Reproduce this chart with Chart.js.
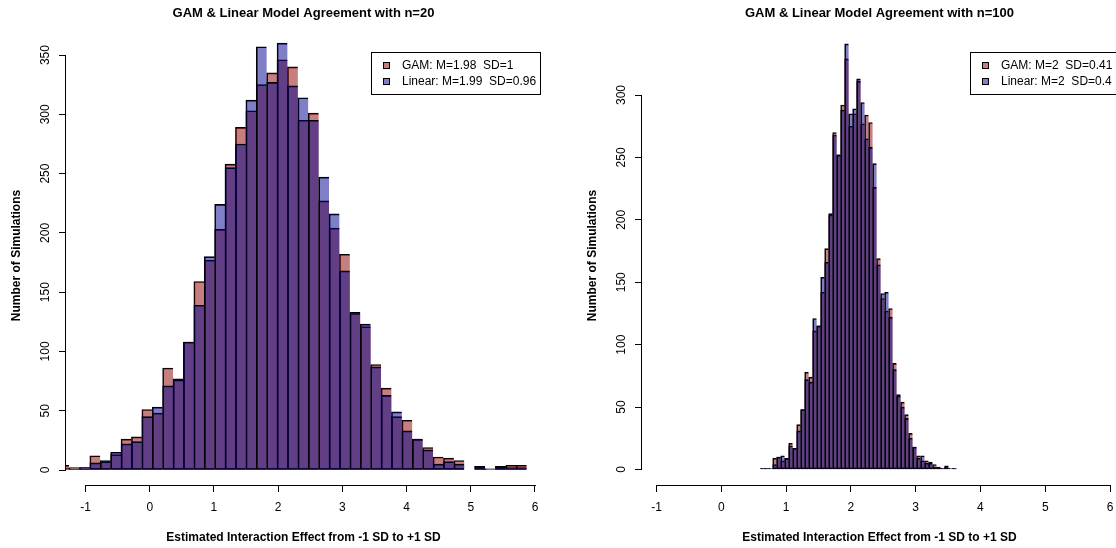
<!DOCTYPE html>
<html><head><meta charset="utf-8">
<script src="https://cdn.jsdelivr.net/npm/chart.js@4.4.0/dist/chart.umd.min.js"></script>
<style>
html,body{margin:0;padding:0;background:#fff;overflow:hidden;width:1116px;height:548px}
.p{position:absolute;top:0;width:576px;height:548px}
</style></head><body>
<div class="p" style="left:0"><canvas id="c1" width="576" height="548"></canvas></div>
<div class="p" style="left:576px"><canvas id="c2" width="576" height="548"></canvas></div>
<script>
// ---- data ----
const leftBins = [-1.338,-1.176,-1.014,-0.852,-0.690,-0.528,-0.366,-0.204,-0.042,0.120,0.282,0.444,0.606,0.768,0.930,1.092,1.254,1.416,1.578,1.740,1.902,2.064,2.226,2.388,2.550,2.712,2.874,3.036,3.198,3.360,3.522,3.684,3.846,4.008,4.170,4.332,4.494,4.656,4.818,4.980,5.142,5.304,5.466,5.628,5.790];
const leftGam = [4,2,2,12,8,13,26,28,51,48,86,77,108,159,177,203,258,289,303,325,335,346,340,295,301,227,204,182,133,121,89,69,45,42,26,19,11,10,8,0,3,1,3,4,4];
const leftLinear = [0,1,2,6,7,15,22,24,45,53,71,76,108,139,180,224,255,275,312,357,327,360,324,314,295,247,216,168,132,123,87,63,49,33,26,17,5,7,5,0,3,1,3,2,2];

const rightBins = [0.6390,0.7007,0.7624,0.8241,0.8858,0.9475,1.0092,1.0709,1.1326,1.1943,1.2560,1.3177,1.3794,1.4411,1.5028,1.5645,1.6262,1.6879,1.7496,1.8113,1.8730,1.9347,1.9964,2.0581,2.1198,2.1815,2.2432,2.3049,2.3666,2.4283,2.4900,2.5517,2.6134,2.6751,2.7368,2.7985,2.8602,2.9219,2.9836,3.0453,3.1070,3.1687,3.2304,3.2921,3.3538,3.4155,3.4772,3.5389,3.6006];
const rightGam = [1,1,0,9,10,7,9,21,17,36,48,78,74,111,115,142,177,204,270,252,292,329,275,285,311,277,284,278,226,169,137,127,129,85,60,54,44,29,18,11,7,7,6,4,2,1,2,1,1];
const rightLinear = [1,1,1,4,10,11,9,19,17,31,48,72,70,121,115,154,166,205,268,252,288,341,285,289,313,294,265,258,245,164,141,142,122,80,59,50,41,25,18,9,11,5,5,2,2,1,3,0,1];

const xTickValues = [-1,0,1,2,3,4,5,6];
const leftYTicks = [0,50,100,150,200,250,300,350];
const rightYTicks = [0,50,100,150,200,250,300];

const leftTitle = 'GAM & Linear Model Agreement with n=20';
const rightTitle = 'GAM & Linear Model Agreement with n=100';
const leftLegend = ['GAM: M=1.98  SD=1', 'Linear: M=1.99  SD=0.96'];
const rightLegend = ['GAM: M=2  SD=0.41', 'Linear: M=2  SD=0.4'];
const xAxisTitle = 'Estimated Interaction Effect from -1 SD to +1 SD';
const yAxisTitle = 'Number of Simulations';

const FONT = '"Liberation Sans", Arial, Helvetica, sans-serif';
const GAM_COL = 'rgba(139,0,0,0.5)';
const LIN_COL = 'rgba(0,0,139,0.5)';

Chart.defaults.font.family = FONT;
Chart.defaults.color = '#000';

const rAxes = {
  id: 'rAxes',
  afterDraw(chart, args, opts) {
    const {ctx, chartArea: ca, scales: {x, y}} = chart;
    ctx.save();
    ctx.strokeStyle = '#000';
    ctx.lineWidth = 1;
    // x axis line (first to last tick)
    const yb = Math.round(ca.bottom) + 0.5;
    ctx.beginPath();
    ctx.moveTo(Math.round(x.getPixelForValue(opts.xTicks[0])), yb);
    ctx.lineTo(Math.round(x.getPixelForValue(opts.xTicks[opts.xTicks.length - 1])) + 1, yb);
    ctx.stroke();
    // y axis line
    const xl = Math.round(ca.left) - 0.5;
    ctx.beginPath();
    ctx.moveTo(xl, Math.round(y.getPixelForValue(opts.yTicks[0])) + 1);
    ctx.lineTo(xl, Math.round(y.getPixelForValue(opts.yTicks[opts.yTicks.length - 1])));
    ctx.stroke();
    // y tick labels, rotated like R
    ctx.fillStyle = '#000';
    ctx.font = '12px ' + FONT;
    ctx.textAlign = 'center';
    ctx.textBaseline = 'alphabetic';
    for (const v of opts.yTicks) {
      const py = y.getPixelForValue(v);
      ctx.save();
      ctx.translate(ca.left - 17.5, py);
      ctx.rotate(-Math.PI / 2);
      ctx.fillText(String(v), 0, 0);
      ctx.restore();
    }
    // legend (top right of plot region)
    const labels = opts.legend;
    const cols = [GAM_COL, LIN_COL];
    ctx.font = '12px ' + FONT;
    const tw = Math.max(...labels.map(t => ctx.measureText(t).width));
    const bw = Math.round(tw + 36), bh = 43;
    const bx = Math.round(ca.right) - bw, by = 52;
    ctx.fillStyle = '#fff';
    ctx.fillRect(bx, by, bw, bh);
    ctx.strokeRect(bx + 0.5, by + 0.5, bw - 1, bh - 1);
    ctx.textAlign = 'left';
    ctx.textBaseline = 'middle';
    labels.forEach((t, i) => {
      const cy = by + 14 + i * 16;
      ctx.fillStyle = cols[i];
      ctx.fillRect(bx + 12, Math.round(cy - 4), 7, 7);
      ctx.strokeStyle = '#000';
      ctx.strokeRect(bx + 12.5, Math.round(cy - 4) + 0.5, 6, 6);
      ctx.fillStyle = '#000';
      ctx.fillText(t, bx + 31, cy);
    });
    ctx.restore();
  }
};

function makeChart(id, bins, gam, lin, xmin, xmax, ymin, ymax, yTicks, title, legend) {
  const barOpts = {
    borderColor: '#000',
    borderWidth: {left: 1, right: 0, top: 1, bottom: 1},
    borderSkipped: false,
    barPercentage: 1,
    categoryPercentage: 1,
    grouped: false,
    clip: 0
  };
  return new Chart(document.getElementById(id), {
    type: 'bar',
    data: {
      datasets: [
        Object.assign({label: 'GAM', data: bins.map((b, i) => ({x: b, y: gam[i]})), backgroundColor: GAM_COL, order: 2}, barOpts),
        Object.assign({label: 'Linear', data: bins.map((b, i) => ({x: b, y: lin[i]})), backgroundColor: LIN_COL, order: 1}, barOpts)
      ]
    },
    options: {
      responsive: false,
      animation: false,
      devicePixelRatio: 1,
      layout: {padding: {left: 0, right: 35, top: 0, bottom: 0}},
      plugins: {
        legend: {display: false},
        tooltip: {enabled: false},
        title: {display: true, text: title, fullSize: false, color: '#000',
          font: {size: 13, weight: 'bold', family: FONT}, padding: {top: 6, bottom: 4.4}},
        rAxes: {xTicks: xTickValues, yTicks: yTicks, legend: legend}
      },
      scales: {
        x: {
          type: 'linear', min: xmin, max: xmax, offset: false,
          afterBuildTicks: s => { s.ticks = xTickValues.map(v => ({value: v})); },
          afterFit: s => { s.height = 63; },
          border: {display: false},
          grid: {display: true, offset: false, drawOnChartArea: false, drawTicks: true, tickLength: 7, color: '#000', lineWidth: 1},
          ticks: {color: '#000', font: {size: 12, family: FONT}, padding: 8.5, maxRotation: 0, minRotation: 0, autoSkip: false,
            callback: v => String(v)},
          title: {display: true, text: xAxisTitle, color: '#000', font: {size: 12, weight: 'bold', family: FONT}, padding: {top: 0, bottom: 3.5}}
        },
        y: {
          type: 'linear', min: ymin, max: ymax,
          afterBuildTicks: s => { s.ticks = yTicks.map(v => ({value: v})); },
          afterFit: s => { s.width = 66; },
          border: {display: false},
          grid: {display: true, offset: false, drawOnChartArea: false, drawTicks: true, tickLength: 7, color: '#000', lineWidth: 1},
          ticks: {display: false},
          title: {display: true, text: yAxisTitle, color: '#000', font: {size: 12, weight: 'bold', family: FONT}, padding: {top: 9, bottom: 0}}
        }
      }
    },
    plugins: [rAxes]
  });
}

makeChart('c1', leftBins, leftGam, leftLinear, -1.304, 6.094, -12.65, 374.5, leftYTicks, leftTitle, leftLegend);
makeChart('c2', rightBins, rightGam, rightLinear, -1.224, 6.108, -12.42, 355.3, rightYTicks, rightTitle, rightLegend);
</script>
</body></html>
